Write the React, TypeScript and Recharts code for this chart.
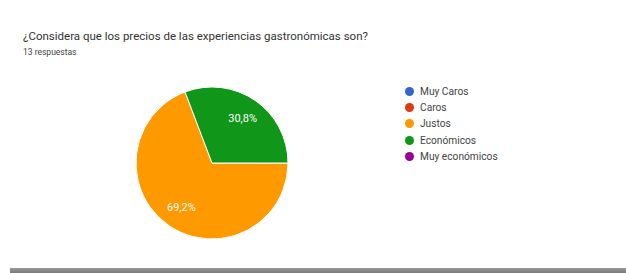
import React from 'react';
import { PieChart, Pie, Cell, Legend } from 'recharts';

const categories = ['Muy Caros', 'Caros', 'Justos', 'Económicos', 'Muy económicos'];
const responses = [0, 0, 9, 4, 0];
const colors = ['#3366cc', '#dc3912', '#ff9900', '#109618', '#990099'];
const percentLabels = ['0%', '0%', '69,2%', '30,8%', '0%'];

const data = categories.map((name, i) => ({ name, value: responses[i], label: percentLabels[i] }));

const RADIAN = Math.PI / 180;

const renderLabel = (props: any) => {
  const { cx, cy, midAngle, outerRadius, index, value } = props;
  if (!value) return null;
  const r = outerRadius * 0.71;
  const x = cx + r * Math.cos(-midAngle * RADIAN);
  const y = cy + r * Math.sin(-midAngle * RADIAN);
  return (
    <text x={x} y={y} fill="#ffffff" fontSize={11} textAnchor="middle" dominantBaseline="central">
      {data[index].label}
    </text>
  );
};

const renderLegend = () => (
  <div>
    {categories.map((name, i) => (
      <div key={name} style={{ display: 'flex', alignItems: 'center', height: 16.3 }}>
        <span
          style={{
            width: 9,
            height: 9,
            borderRadius: '50%',
            background: colors[i],
            display: 'inline-block',
            marginRight: 6,
          }}
        />
        <span style={{ fontSize: 10.2, color: '#444' }}>{name}</span>
      </div>
    ))}
  </div>
);

const App: React.FC = () => {
  return (
    <div
      style={{
        position: 'fixed',
        left: 0,
        top: 0,
        width: 626,
        height: 273,
        background: '#ffffff',
        fontFamily: 'Roboto, Arial, sans-serif',
        overflow: 'hidden',
      }}
    >
      <div style={{ position: 'absolute', left: 23, top: 28, fontSize: 11.5, lineHeight: '16px', color: '#333' }}>
        ¿Considera que los precios de las experiencias gastronómicas son?
      </div>
      <div style={{ position: 'absolute', left: 23, top: 47, fontSize: 8.5, lineHeight: '11px', color: '#444' }}>
        13 respuestas
      </div>
      <div style={{ position: 'absolute', left: 0, top: 0 }}>
        <PieChart width={626} height={273} margin={{ top: 0, right: 0, bottom: 0, left: 0 }}>
          <Pie
            data={data}
            dataKey="value"
            nameKey="name"
            cx={212}
            cy={163}
            outerRadius={76}
            startAngle={0}
            endAngle={-360}
            stroke="#ffffff"
            strokeWidth={1}
            label={renderLabel}
            labelLine={false}
            isAnimationActive={false}
          >
            {data.map((d, i) => (
              <Cell key={d.name} fill={colors[i]} />
            ))}
          </Pie>
          <Legend
            content={renderLegend}
            layout="vertical"
            wrapperStyle={{ position: 'absolute', left: 405, top: 83, width: 140 }}
          />
        </PieChart>
      </div>
      <div
        style={{
          position: 'absolute',
          left: 10,
          right: 0,
          top: 268,
          height: 5,
          zIndex: 2,
          background: 'linear-gradient(to bottom, #9a9a9a, #7a7a7a)',
        }}
      />
    </div>
  );
};

export default App;
